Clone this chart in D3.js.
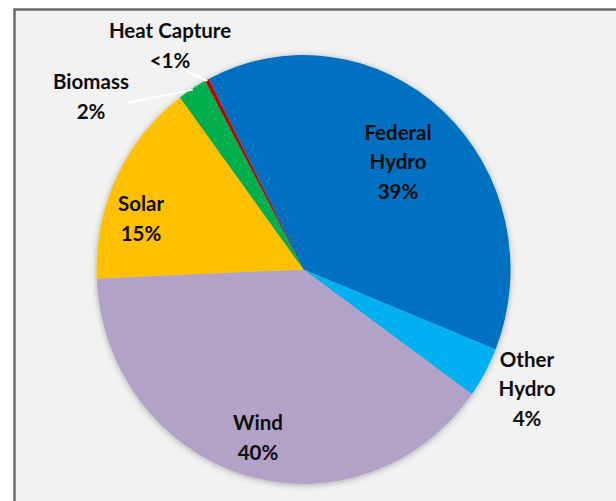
<!DOCTYPE html>
<html>
<head>
<meta charset="utf-8">
<script src="https://cdn.jsdelivr.net/npm/d3@7"></script>
<style>
  html, body { margin: 0; padding: 0; background: #ffffff; }
  svg { display: block; }
</style>
</head>
<body>
<svg id="chart" width="616" height="501"></svg>
<script>
// ---- data ----
const categories = ["Federal Hydro", "Other Hydro", "Wind", "Solar", "Biomass", "Heat Capture"];
const shares = [38.7, 3.8, 39.5, 15.5, 2.3, 0.3];
const percentLabels = ["39%", "4%", "40%", "15%", "2%", "<1%"];
const colors = ["#0070c0", "#00b0f0", "#b3a2c7", "#ffc000", "#00b050", "#c00000"];

// ---- layout ----
const W = 616, H = 501;
const cx = 303.5, cy = 269.5, r = 207, yStretch = 1.036;
const startDeg = -27.3;

const svg = d3.select("#chart");

const defs = svg.append("defs");
const f = defs.append("filter").attr("id", "shadow")
  .attr("x", "-10%").attr("y", "-10%").attr("width", "120%").attr("height", "120%");
f.append("feDropShadow").attr("dx", 0).attr("dy", 1).attr("stdDeviation", 3)
  .attr("flood-color", "#000").attr("flood-opacity", 0.3);

// frame
svg.append("rect").attr("x", 14.5).attr("y", 9.5).attr("width", 700).attr("height", 600)
  .attr("fill", "#f2f2f2").attr("stroke", "#6b6b6b").attr("stroke-width", 2.5);

const data = categories.map((c, i) => ({ name: c, value: shares[i], label: percentLabels[i], color: colors[i] }));

const start = startDeg * Math.PI / 180;
const pie = d3.pie().sort(null).value(d => d.value).startAngle(start).endAngle(start + 2 * Math.PI);
const arcs = pie(data);
const arc = d3.arc().innerRadius(0).outerRadius(r);

const g = svg.append("g")
  .attr("transform", `translate(${cx},${cy}) scale(1,${yStretch})`);
const slices = g.append("g").attr("filter", "url(#shadow)");
slices.selectAll("path").data(arcs).enter().append("path")
  .attr("d", arc)
  .attr("fill", d => d.data.color);

// leader lines (outside labels for tiny slices)
function edgePoint(a, rr) {
  const ang = (a.startAngle + a.endAngle) / 2;
  return [cx + Math.sin(ang) * rr, cy - Math.cos(ang) * rr * yStretch];
}
const leaders = {
  "Heat Capture": [180, 68],
  "Biomass": [127, 103]
};
arcs.forEach(a => {
  const L = leaders[a.data.name];
  if (!L) return;
  const p = edgePoint(a, r - 1);
  svg.append("line").attr("x1", L[0]).attr("y1", L[1]).attr("x2", p[0]).attr("y2", p[1])
    .attr("stroke", "#ffffff").attr("stroke-width", 2);
});

// labels
const labelPos = {
  "Federal Hydro": { x: 398, y: 162, lines: ["Federal", "Hydro"] },
  "Other Hydro": { x: 527, y: 389, lines: ["Other", "Hydro"] },
  "Wind": { x: 258, y: 438, lines: ["Wind"] },
  "Solar": { x: 141, y: 219, lines: ["Solar"] },
  "Biomass": { x: 91, y: 97, lines: ["Biomass"] },
  "Heat Capture": { x: 170, y: 46, lines: ["Heat Capture"] }
};
const lh = 29.5;
arcs.forEach(a => {
  const lp = labelPos[a.data.name];
  const lines = lp.lines.concat([a.data.label]);
  const y0 = lp.y - (lines.length - 1) * lh / 2;
  const t = svg.append("text")
    .attr("text-anchor", "middle")
    .attr("font-family", "Lato, 'Open Sans', sans-serif")
    .attr("font-weight", "bold")
    .attr("font-size", 20.5)
    .attr("fill", "#0d0d0d");
  lines.forEach((s, i) => {
    t.append("tspan").attr("x", lp.x).attr("y", y0 + i * lh).attr("dy", "0.35em").text(s);
  });
});
</script>
</body>
</html>
